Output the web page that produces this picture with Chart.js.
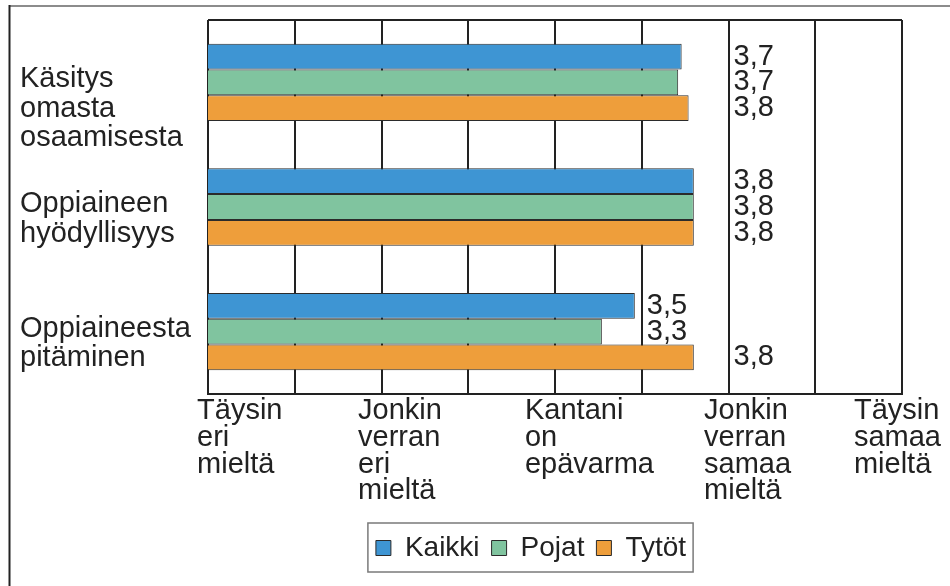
<!DOCTYPE html>
<html>
<head>
<meta charset="utf-8">
<script src="https://cdn.jsdelivr.net/npm/chart.js@4"></script>
<style>
    body { margin: 0; background: #fff; }
    #wrap { width: 950px; height: 586px; position: relative; }
</style>
</head>
<body>
<div id="wrap"><canvas id="mychart"></canvas></div>
<script>
const categories = [
    ['Käsitys', 'omasta', 'osaamisesta'],
    ['Oppiaineen', 'hyödyllisyys'],
    ['Oppiaineesta', 'pitäminen']
]
const kaikki = [3.73, 3.80, 3.46]
const pojat = [3.71, 3.80, 3.27]
const tytot = [3.77, 3.80, 3.80]
const scaleLabels = [
    ['Täysin', 'eri', 'mieltä'],
    ['Jonkin', 'verran', 'eri', 'mieltä'],
    ['Kantani', 'on', 'epävarma'],
    ['Jonkin', 'verran', 'samaa', 'mieltä'],
    ['Täysin', 'samaa', 'mieltä']
]
// where the answer scale texts start, in axis units
const tickLabelAt = [0.937, 1.865, 2.827, 3.859, 4.723]

const FONT = "'Liberation Sans', Arial, sans-serif"
const INK = '#222'

// values as "3,7", placed after the next half-step grid line
const valueLabels = {
    id: 'valueLabels',
    afterDatasetsDraw(chart) {
        const ctx = chart.ctx
        const xs = chart.scales.x
        ctx.save()
        ctx.font = '29px ' + FONT
        ctx.fillStyle = INK
        ctx.textAlign = 'left'
        ctx.textBaseline = 'middle'
        chart.data.datasets.forEach((ds, di) => {
            chart.getDatasetMeta(di).data.forEach((bar, i) => {
                const v = ds.data[i]
                const x = xs.getPixelForValue(Math.ceil(v * 2) / 2) + 5
                ctx.fillText(v.toFixed(1).replace('.', ','), x, bar.y)
            })
        })
        ctx.restore()
    }
}

// page frame, top border of the plot and box round the legend
const frame = {
    id: 'frame',
    beforeDraw(chart) {
        const ctx = chart.ctx
        ctx.save()
        ctx.fillStyle = '#fff'
        ctx.fillRect(0, 0, chart.width, chart.height)
        ctx.strokeStyle = '#8c8c8c'
        ctx.lineWidth = 2
        ctx.beginPath()
        ctx.moveTo(9, 6)
        ctx.lineTo(chart.width, 6)
        ctx.stroke()
        ctx.strokeStyle = INK
        ctx.beginPath()
        ctx.moveTo(9.5, 5)
        ctx.lineTo(9.5, chart.height)
        ctx.stroke()
        ctx.restore()
    },
    afterLayout(chart) {
        // legend sits a bit right of the page centre
        chart.legend.left += 70
        chart.legend.right += 70
    },
    afterDatasetsDraw(chart) {
        const a = chart.chartArea
        const ctx = chart.ctx
        ctx.save()
        ctx.strokeStyle = INK
        ctx.lineWidth = 2
        ctx.beginPath()
        ctx.moveTo(a.left, a.top)
        ctx.lineTo(a.right, a.top)
        ctx.stroke()
        ctx.restore()
    },
    afterDraw(chart) {
        const lg = chart.legend
        const hb = lg.legendHitBoxes
        if (!hb || !hb.length) return
        const last = hb[hb.length - 1]
        const ctx = chart.ctx
        ctx.save()
        ctx.strokeStyle = '#7a7a7a'
        ctx.lineWidth = 1.5
        ctx.strokeRect(hb[0].left - 8, lg.top + 1, last.left + last.width + 15 - hb[0].left, 49)
        ctx.restore()
    }
}

const ctx = document.getElementById('mychart')

new Chart(ctx, {
    type: 'bar',
    data: {
        labels: categories,
        datasets: [
            { label: 'Kaikki', data: kaikki, backgroundColor: '#3e95d3' },
            { label: 'Pojat', data: pojat, backgroundColor: '#80c49f' },
            { label: 'Tytöt', data: tytot, backgroundColor: '#ee9e3b' }
        ]
    },
    options: {
        indexAxis: 'y',
        responsive: true,
        maintainAspectRatio: false,
        animation: false,
        layout: { padding: { left: 20, top: 20, right: 48, bottom: 14 } },
        datasets: {
            bar: {
                categoryPercentage: 0.62,
                barPercentage: 1,
                borderColor: '#2b2b2b',
                borderWidth: 1
            }
        },
        scales: {
            x: {
                min: 1,
                max: 5,
                ticks: { display: false, stepSize: 0.5 },
                grid: { color: INK, lineWidth: 2, drawTicks: false },
                border: { display: true, color: INK, width: 2 }
            },
            x2: {
                type: 'linear',
                position: 'bottom',
                min: 1,
                max: 5,
                grid: { display: false },
                border: { display: false },
                afterBuildTicks(scale) {
                    scale.ticks = tickLabelAt.map(v => ({ value: v }))
                },
                afterFit(scale) {
                    scale.height = 128
                    scale.paddingLeft = 0
                    scale.paddingRight = 0
                },
                ticks: {
                    autoSkip: false,
                    maxRotation: 0,
                    align: 'start',
                    padding: -4,
                    color: INK,
                    font: { family: FONT, size: 29, lineHeight: 0.92 },
                    callback: (v, i) => scaleLabels[i]
                }
            },
            y: {
                grid: { display: false },
                border: { display: false },
                afterFit(scale) {
                    scale.width = 188
                    scale.paddingTop = 0
                    scale.paddingBottom = 0
                },
                ticks: {
                    autoSkip: false,
                    crossAlign: 'far',
                    padding: 0,
                    labelOffset: -3,
                    color: INK,
                    font: { family: FONT, size: 29, lineHeight: 1.02 },
                    // first line of each name is level with the middle of its bars
                    callback: (v, i) => Array(categories[i].length - 1).fill('').concat(categories[i])
                }
            }
        },
        plugins: {
            tooltip: { enabled: false },
            legend: {
                position: 'bottom',
                labels: {
                    boxWidth: 15,
                    boxHeight: 15,
                    padding: 12,
                    color: INK,
                    font: { family: FONT, size: 28 }
                }
            }
        }
    },
    plugins: [valueLabels, frame]
})
</script>
</body>
</html>
